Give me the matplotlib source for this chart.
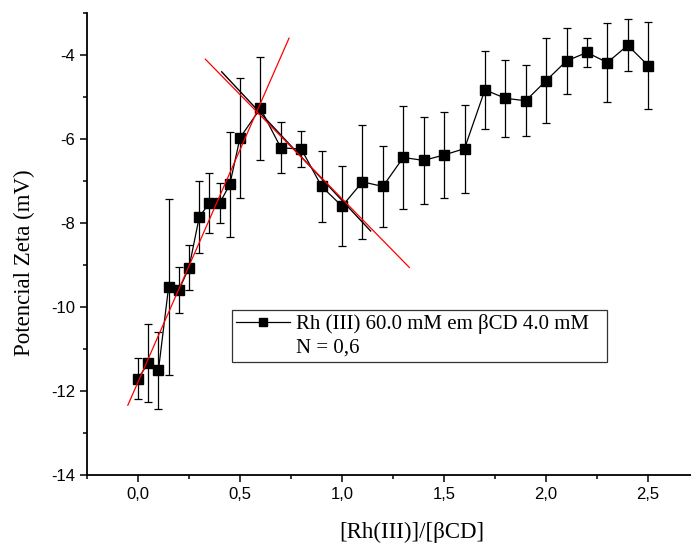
import matplotlib
matplotlib.use("Agg")
import matplotlib.pyplot as plt
from matplotlib.ticker import MultipleLocator, FuncFormatter
from matplotlib.lines import Line2D

plt.rcParams["axes.unicode_minus"] = False

# razao molar [Rh(III)]/[bCD]
razao = [0.0, 0.05, 0.1, 0.15, 0.2, 0.25, 0.3, 0.35, 0.4, 0.45, 0.5,
         0.6, 0.7, 0.8, 0.9, 1.0, 1.1, 1.2, 1.3, 1.4, 1.5, 1.6, 1.7,
         1.8, 1.9, 2.0, 2.1, 2.2, 2.3, 2.4, 2.5]
# potencial zeta medio (mV)
zeta = [-11.71, -11.33, -11.51, -9.52, -9.60, -9.06, -7.86, -7.52, -7.53, -7.08, -5.97,
        -5.27, -6.21, -6.24, -7.13, -7.60, -7.02, -7.13, -6.44, -6.51, -6.38, -6.23, -4.83,
        -5.03, -5.09, -4.61, -4.14, -3.94, -4.18, -3.77, -4.25]
# desvio padrao (mV)
desvio = [0.49, 0.92, 0.92, 2.10, 0.55, 0.54, 0.85, 0.71, 0.48, 1.25, 1.43,
          1.22, 0.61, 0.42, 0.84, 0.95, 1.36, 0.97, 1.22, 1.04, 1.03, 1.05, 0.92,
          0.92, 0.85, 1.01, 0.78, 0.34, 0.95, 0.62, 1.04]

# retas de ajuste (inicio/fim)
reta_sobe_x = [-0.05, 0.74]
reta_sobe_y = [-12.34, -3.60]
reta_desce_x = [0.33, 1.33]
reta_desce_y = [-4.10, -9.06]
reta_preta_x = [0.41, 1.14]
reta_preta_y = [-4.40, -8.19]

legenda = "Rh (III) 60.0 mM em \u03b2CD 4.0 mM"
legenda_n = "N = 0,6"

serif = "Liberation Serif"
sans = "Liberation Sans"

fig = plt.figure(figsize=(6.91, 5.43), dpi=100)
ax = fig.add_axes([87 / 691, 68 / 543, 604 / 691, 462 / 543])

ax.plot(reta_preta_x, reta_preta_y, color="black", lw=1.0, zorder=2)
ax.errorbar(razao, zeta, yerr=desvio, color="black", lw=0.9, elinewidth=0.9,
            capsize=3, capthick=0.9, marker="s", markersize=7, zorder=3)
ax.plot(reta_sobe_x, reta_sobe_y, color="red", lw=0.9, zorder=4)
ax.plot(reta_desce_x, reta_desce_y, color="red", lw=0.9, zorder=4)

ax.set_xlim(-0.25, 2.71)
ax.set_ylim(-14, -3)

for s in ("top", "right"):
    ax.spines[s].set_visible(False)
for s in ("left", "bottom"):
    ax.spines[s].set_linewidth(1.3)

ax.xaxis.set_major_locator(MultipleLocator(0.5))
ax.xaxis.set_minor_locator(MultipleLocator(0.25))
ax.yaxis.set_major_locator(MultipleLocator(2))
ax.yaxis.set_minor_locator(MultipleLocator(1))
ax.xaxis.set_major_formatter(FuncFormatter(lambda v, p: f"{v:.1f}".replace(".", ",")))
ax.yaxis.set_major_formatter(FuncFormatter(lambda v, p: f"{v:.0f}"))
ax.tick_params(which="major", direction="out", length=5, width=1.1, labelsize=12)
ax.tick_params(which="minor", direction="out", length=3, width=1.1)
for lbl in ax.get_xticklabels() + ax.get_yticklabels():
    lbl.set_fontfamily(sans)

ax.set_xlabel("[Rh(III)]/[\u03b2CD]", fontsize=16.5, family=serif)
ax.set_ylabel("Potencial Zeta (mV)", fontsize=16.5, family=serif)
ax.xaxis.set_label_coords((412 - 87) / 604, -(522 - 475) / 462)
ax.yaxis.set_label_coords(-(87 - 35) / 604, (475 - 263) / 462)

# caixa da legenda mais larga que o texto
h1 = Line2D([], [], color="black", lw=0.9, marker="s", markersize=5.5)
h2 = Line2D([], [], color="none")
leg_x0 = (231.7 - 87) / 604
leg_top = (475 - 310) / 462
leg_w = (607 - 231.7) / 604
leg = ax.legend([h1, h2], [legenda, legenda_n], loc="upper left", mode="expand",
                bbox_to_anchor=(leg_x0, leg_top - 0.2, leg_w, 0.2),
                prop={"family": serif, "size": 15}, frameon=True, fancybox=False,
                edgecolor="black", borderpad=0.2, labelspacing=0.2,
                handlelength=2.6, handletextpad=0.3, borderaxespad=0)
leg.get_frame().set_linewidth(0.9)

fig.savefig("out.png", dpi=100)
